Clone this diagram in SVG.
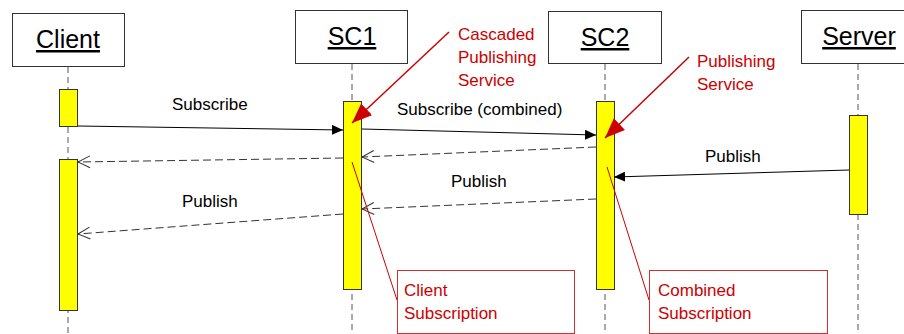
<svg xmlns="http://www.w3.org/2000/svg" width="904" height="334" viewBox="0 0 904 334">
<style>
.box{fill:#fff;stroke:#333;stroke-width:1}
.title{font-family:"Liberation Sans",Arial,sans-serif;font-size:25px;fill:#000;text-anchor:middle;text-decoration:underline}
.life{stroke:#555;stroke-width:1;stroke-dasharray:6,4;fill:none}
.act{fill:#ffff00;stroke:#333;stroke-width:1}
.msg{stroke:#000;stroke-width:1;fill:none}
.ret{stroke:#333;stroke-width:1;stroke-dasharray:8,4;fill:none}
.lbl{font-family:"Liberation Sans",Arial,sans-serif;font-size:17px;fill:#000}
.note{fill:#fff;stroke:#d03030;stroke-width:1}
.red{font-family:"Liberation Sans",Arial,sans-serif;font-size:17px;fill:#cc0000}
.rline{stroke:#cc0000;stroke-width:1;fill:none}
.rarrow{stroke:#cc0000;stroke-width:1.5;fill:none}
</style>
<defs>
<marker id="filled" markerWidth="12" markerHeight="10" refX="11" refY="5" orient="auto" markerUnits="userSpaceOnUse">
<path d="M0,0 L11,5 L0,10 Z" fill="#000"/>
</marker>
<marker id="open" markerWidth="14" markerHeight="14" refX="13" refY="7" orient="auto" markerUnits="userSpaceOnUse">
<path d="M1,1 L13,7 L1,13" fill="none" stroke="#333" stroke-width="1"/>
</marker>
<marker id="redhead" markerWidth="22" markerHeight="18" refX="20" refY="9" orient="auto" markerUnits="userSpaceOnUse">
<path d="M0,1 L20,9 L0,17 Z" fill="#cc0000"/>
</marker>
</defs>

<g id="client">
<rect class="box" x="12.5" y="13.5" width="112" height="53"/>
<text class="title" x="68" y="48">Client</text>
<line class="life" x1="68" y1="67" x2="68" y2="334"/>
<rect class="act" x="59.5" y="89.5" width="18" height="37"/>
<rect class="act" x="59.5" y="159.5" width="18" height="151"/>
</g>

<g id="sc1">
<rect class="box" x="295.5" y="10.5" width="112" height="53"/>
<text class="title" x="352" y="45">SC1</text>
<line class="life" x1="352" y1="64" x2="352" y2="334"/>
<rect class="act" x="343.5" y="101.5" width="18" height="188"/>
</g>

<g id="sc2">
<rect class="box" x="548.5" y="11.5" width="113" height="52"/>
<text class="title" x="605" y="46">SC2</text>
<line class="life" x1="605" y1="64" x2="605" y2="334"/>
<rect class="act" x="596.5" y="101.5" width="18" height="188"/>
</g>

<g id="server">
<rect class="box" x="801.5" y="10.5" width="110" height="53"/>
<text class="title" x="859" y="45">Server</text>
<line class="life" x1="858" y1="64" x2="858" y2="334"/>
<rect class="act" x="849.5" y="115.5" width="18" height="99"/>
</g>

<g id="connectors">
<line class="msg" x1="78" y1="126" x2="343" y2="130" marker-end="url(#filled)"/>
<line class="msg" x1="362" y1="129" x2="596" y2="135" marker-end="url(#filled)"/>
<line class="ret" x1="596" y1="147" x2="362" y2="157" marker-end="url(#open)"/>
<line class="ret" x1="343" y1="158" x2="78" y2="162" marker-end="url(#open)"/>
<line class="msg" x1="849" y1="170" x2="614" y2="177" marker-end="url(#filled)"/>
<line class="ret" x1="596" y1="199" x2="362" y2="209" marker-end="url(#open)"/>
<line class="ret" x1="343" y1="214" x2="78" y2="234" marker-end="url(#open)"/>
</g>

<g id="labels">
<text class="lbl" x="172" y="110">Subscribe</text>
<text class="lbl" x="397" y="115">Subscribe (combined)</text>
<text class="lbl" x="705" y="162">Publish</text>
<text class="lbl" x="451" y="187">Publish</text>
<text class="lbl" x="182" y="207">Publish</text>
</g>

<g id="note-cascaded">
<line class="rarrow" x1="449" y1="32" x2="352" y2="123" marker-end="url(#redhead)"/>
<text class="red" x="458" y="40">Cascaded</text>
<text class="red" x="458" y="63">Publishing</text>
<text class="red" x="458" y="86">Service</text>
</g>

<g id="note-publishing">
<line class="rarrow" x1="689" y1="57" x2="605" y2="138" marker-end="url(#redhead)"/>
<text class="red" x="697" y="67">Publishing</text>
<text class="red" x="697" y="90">Service</text>
</g>

<g id="note-client-sub">
<line class="rline" x1="352" y1="162" x2="397" y2="300"/>
<rect class="note" x="397.5" y="270.5" width="177" height="63"/>
<text class="red" x="404" y="296">Client</text>
<text class="red" x="404" y="319">Subscription</text>
</g>

<g id="note-combined-sub">
<line class="rline" x1="607" y1="167" x2="649" y2="300"/>
<rect class="note" x="649.5" y="270.5" width="178" height="63"/>
<text class="red" x="658" y="296">Combined</text>
<text class="red" x="658" y="319">Subscription</text>
</g>
</svg>
